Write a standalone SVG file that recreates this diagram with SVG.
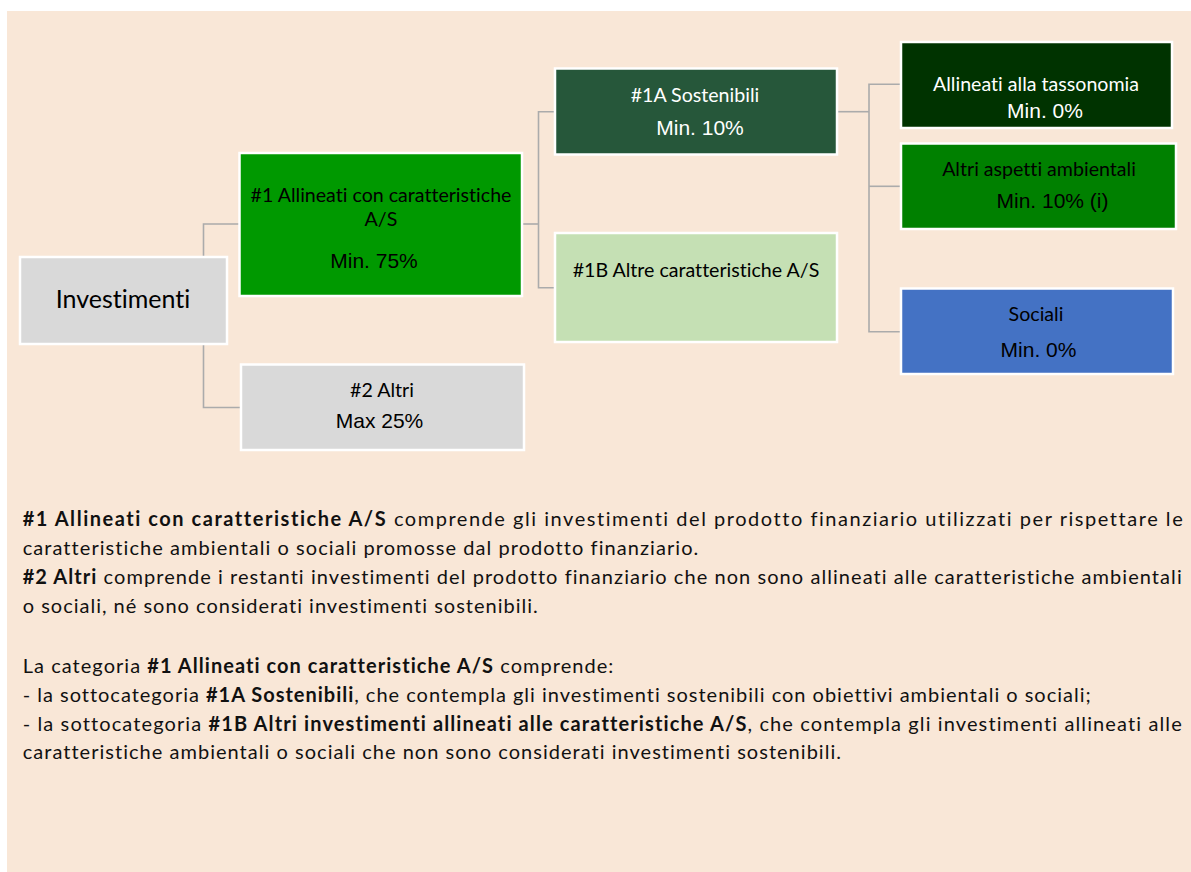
<svg xmlns="http://www.w3.org/2000/svg" width="1191" height="872" viewBox="0 0 1191 872">
<style>
text{font-variant-ligatures:none;font-feature-settings:"liga" 0,"clig" 0}
.box{stroke:#ffffff;stroke-width:2.5}
.lbl{font-family:Lato,"Open Sans",sans-serif;font-size:19.6px;text-anchor:middle;fill:#000}
.pct{font-family:"Liberation Sans",Arial,sans-serif;font-size:21px;text-anchor:middle;fill:#000}
.w{fill:#ffffff}
.conn{fill:none;stroke:#ABABAB;stroke-width:1.6}
.body{font-family:Lato,"Open Sans",sans-serif;font-size:20px;fill:#111}
.b{font-weight:bold}
</style>
<rect x="0" y="0" width="1191" height="872" fill="#ffffff"/>
<rect x="7" y="11" width="1184" height="861" fill="#F9E7D7"/>

<g id="connectors">
<path class="conn" d="M203.5 257 V224 H239"/>
<path class="conn" d="M203.5 344 V407.5 H241"/>
<path class="conn" d="M523 224 H538.5"/>
<path class="conn" d="M555 111.7 H538.5 V287.7 H555"/>
<path class="conn" d="M838 111.7 H869"/>
<path class="conn" d="M901 84.3 H869 V331.7 H901"/>
<path class="conn" d="M869 186.3 H901"/>
</g>

<g id="investimenti">
<rect class="box" x="20" y="257" width="207" height="87" fill="#D9D9D9"/>
<text class="lbl" x="123" y="308" style="font-size:25px">Investimenti</text>
</g>

<g id="n1">
<rect class="box" x="239.5" y="153" width="282.5" height="143" fill="#009900"/>
<text class="lbl" x="381" y="201.5">#1 Allineati con caratteristiche</text>
<text class="lbl" x="381" y="226">A/S</text>
<text class="pct" x="374" y="268">Min. 75%</text>
</g>

<g id="n2">
<rect class="box" x="241" y="364.5" width="283" height="85.5" fill="#D9D9D9"/>
<text class="lbl" x="382" y="396.5">#2 Altri</text>
<text class="pct" x="379.5" y="428">Max 25%</text>
</g>

<g id="n1a">
<rect class="box" x="555" y="68.5" width="282" height="86" fill="#26573A"/>
<text class="lbl w" x="695" y="101.7">#1A Sostenibili</text>
<text class="pct w" x="700" y="135.3">Min. 10%</text>
</g>

<g id="n1b">
<rect class="box" x="555" y="233" width="282" height="109" fill="#C5E0B4"/>
<text class="lbl" x="696" y="277">#1B Altre caratteristiche A/S</text>
</g>

<g id="tassonomia">
<rect class="box" x="901" y="42" width="271" height="86" fill="#003300"/>
<text class="lbl w" x="1036" y="90.7">Allineati alla tassonomia</text>
<text class="pct w" x="1045" y="118.3">Min. 0%</text>
</g>

<g id="ambientali">
<rect class="box" x="901" y="143.5" width="275" height="85.5" fill="#008000"/>
<text class="lbl" x="1039" y="175.7">Altri aspetti ambientali</text>
<text class="pct" x="1052.5" y="208.3">Min. 10% (i)</text>
</g>

<g id="sociali">
<rect class="box" x="901" y="288.5" width="272" height="85.5" fill="#4472C4"/>
<text class="lbl" x="1036" y="321">Sociali</text>
<text class="pct" x="1038.5" y="356.7">Min. 0%</text>
</g>

<g id="notes">
<text class="body" x="22.7" y="526" textLength="1160" lengthAdjust="spacing"><tspan class="b">#1 Allineati con caratteristiche A/S</tspan> comprende gli investimenti del prodotto finanziario utilizzati per rispettare le</text>
<text class="body" x="22.7" y="555" textLength="675.6" lengthAdjust="spacing">caratteristiche ambientali o sociali promosse dal prodotto finanziario.</text>
<text class="body" x="22.7" y="584" textLength="1159" lengthAdjust="spacing"><tspan class="b">#2 Altri</tspan> comprende i restanti investimenti del prodotto finanziario che non sono allineati alle caratteristiche ambientali</text>
<text class="body" x="22.7" y="613" textLength="515" lengthAdjust="spacing">o sociali, né sono considerati investimenti sostenibili.</text>
<text class="body" x="22.7" y="672.5" textLength="590.6" lengthAdjust="spacing">La categoria <tspan class="b">#1 Allineati con caratteristiche A/S</tspan> comprende:</text>
<text class="body" x="22.7" y="701.5" textLength="1068" lengthAdjust="spacing">- la sottocategoria <tspan class="b">#1A Sostenibili</tspan>, che contempla gli investimenti sostenibili con obiettivi ambientali o sociali;</text>
<text class="body" x="22.7" y="730.5" textLength="1159" lengthAdjust="spacing">- la sottocategoria <tspan class="b">#1B Altri investimenti allineati alle caratteristiche A/S</tspan>, che contempla gli investimenti allineati alle</text>
<text class="body" x="22.7" y="759" textLength="818.3" lengthAdjust="spacing">caratteristiche ambientali o sociali che non sono considerati investimenti sostenibili.</text>
</g>
</svg>
